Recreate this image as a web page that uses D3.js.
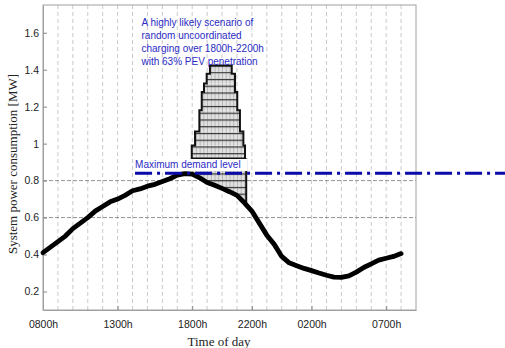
<!DOCTYPE html>
<html>
<head>
<meta charset="utf-8">
<script src="https://cdn.jsdelivr.net/npm/d3@7"></script>
<style>
  body { margin: 0; background: #fff; }
  svg { display: block; }
</style>
</head>
<body>
<div id="chart"></div>
<script>
// hours after 0800h, base system load in MW
const loadHours = [0, 0.5, 1, 1.5, 2, 2.5, 3, 3.5, 4, 4.5, 5, 5.5, 6, 6.5, 7, 7.5, 8, 8.5, 9, 9.5,
  10, 10.5, 11, 11.5, 12, 12.5, 13, 13.5, 14, 14.5, 15, 15.5, 16, 16.5, 17, 17.5, 18, 18.5, 19, 19.5,
  20, 20.5, 21, 21.5, 22, 22.5, 23, 23.5, 24];
const loadMW = [0.41, 0.44, 0.47, 0.50, 0.54, 0.57, 0.60, 0.635, 0.66, 0.685, 0.70, 0.72, 0.745, 0.755, 0.77, 0.78, 0.795, 0.81, 0.83, 0.838,
  0.835, 0.815, 0.79, 0.775, 0.758, 0.74, 0.72, 0.68, 0.635, 0.57, 0.505, 0.455, 0.39, 0.355, 0.34, 0.325, 0.313, 0.30, 0.288, 0.278,
  0.277, 0.285, 0.305, 0.33, 0.35, 0.37, 0.38, 0.39, 0.405];

// PEV charging layers stacked above the base load (bottom -> top)
const layerBottom = [0.92, 0.99, 1.065, 1.18, 1.28, 1.325, 1.378];
const layerTop    = [0.99, 1.065, 1.18, 1.28, 1.325, 1.378, 1.423];
const layerStart  = [9.97, 10.19, 10.48, 10.64, 10.79, 10.97, 11.19];
const layerEnd    = [13.54, 13.43, 13.2, 13.02, 12.87, 12.87, 12.65];
const fillStart = 9.97, fillEnd = 13.62;

const maxDemand = 0.84;
const maxDemandFrom = 6.17;

const xTickValues = [0, 5, 10, 14, 18, 23];
const xTickLabels = ['0800h', '1300h', '1800h', '2200h', '0200h', '0700h'];
const yTickValues = [0.2, 0.4, 0.6, 0.8, 1, 1.2, 1.4, 1.6];
const hGridValues = [0.6, 0.8];
const vGridValues = [1, 2, 3, 4, 5, 6, 7, 8, 9, 10, 11, 12, 13, 14, 15, 16, 17, 18, 19, 20, 21, 22, 23, 24];

const noteLines = ['A highly likely scenario of', 'random uncoordinated',
  'charging over 1800h-2200h', 'with 63% PEV penetration'];

const width = 505, height = 348;
const pLeft = 43, pRight = 416, pTop = 5, pBottom = 310;

const svg = d3.select('#chart').append('svg')
  .attr('width', width)
  .attr('height', height);

const x = d3.scaleLinear().domain([0, 25]).range([pLeft, pRight]);
const y = d3.scaleLinear().domain([0.1, 1.75]).range([pBottom, pTop]);

const defs = svg.append('defs');
defs.append('clipPath').attr('id', 'plot')
  .append('rect')
  .attr('x', pLeft).attr('y', pTop)
  .attr('width', pRight - pLeft).attr('height', pBottom - pTop);

defs.append('clipPath').attr('id', 'lowfill')
  .append('rect')
  .attr('x', x(fillStart)).attr('y', y(layerBottom[0]))
  .attr('width', x(fillEnd) - x(fillStart))
  .attr('height', pBottom - y(layerBottom[0]));

// hatch: thin vertical lines every 15 min, dark horizontal lines per layer
const pw = x(0.25) - x(0), ph = y(0) - y(0.0365);
const pat = defs.append('pattern').attr('id', 'hatch')
  .attr('patternUnits', 'userSpaceOnUse')
  .attr('x', x(0)).attr('y', y(layerTop[layerTop.length - 1]))
  .attr('width', pw).attr('height', ph);
pat.append('rect').attr('width', pw).attr('height', ph).attr('fill', '#e0e0e0');
pat.append('line').attr('x1', 0.3).attr('x2', 0.3).attr('y1', 0).attr('y2', ph)
  .attr('stroke', '#999').attr('stroke-width', 0.7);
pat.append('line').attr('x1', 0).attr('x2', pw).attr('y1', 0.6).attr('y2', 0.6)
  .attr('stroke', '#333').attr('stroke-width', 1.2);

// grid
const grid = svg.append('g').attr('clip-path', 'url(#plot)');
grid.selectAll('.vgrid').data(vGridValues).enter().append('line')
  .attr('class', 'vgrid')
  .attr('x1', d => x(d)).attr('x2', d => x(d))
  .attr('y1', pTop).attr('y2', pBottom)
  .attr('stroke', '#bcbcbc').attr('stroke-width', 0.8)
  .attr('stroke-dasharray', '4,3');
grid.selectAll('.hgrid').data(hGridValues).enter().append('line')
  .attr('class', 'hgrid')
  .attr('x1', pLeft).attr('x2', pRight)
  .attr('y1', d => y(d)).attr('y2', d => y(d))
  .attr('stroke', '#777').attr('stroke-width', 0.8)
  .attr('stroke-dasharray', '4,2');

// frame
svg.append('rect')
  .attr('x', pLeft).attr('y', pTop)
  .attr('width', pRight - pLeft).attr('height', pBottom - pTop)
  .attr('fill', 'none').attr('stroke', '#a0a0a0').attr('stroke-width', 1);

// axes
const xAxis = d3.axisBottom(x)
  .tickValues(xTickValues)
  .tickFormat((d, i) => xTickLabels[i])
  .tickSizeInner(-4).tickSizeOuter(0).tickPadding(11);
const yAxis = d3.axisLeft(y)
  .tickValues(yTickValues)
  .tickFormat(d3.format('~g'))
  .tickSizeInner(-4).tickSizeOuter(0).tickPadding(4);

const gx = svg.append('g').attr('transform', `translate(0,${pBottom})`).call(xAxis);
const gy = svg.append('g').attr('transform', `translate(${pLeft},0)`).call(yAxis);
[gx, gy].forEach(g => {
  g.select('.domain').attr('stroke', '#a0a0a0');
  g.selectAll('.tick line').attr('stroke', '#888');
  g.selectAll('.tick text')
    .attr('fill', '#222')
    .style('font-family', '"Liberation Sans", Arial, sans-serif')
    .style('font-size', '10.5px');
});

// PEV charging: fill between base load and first layer
const baseAt = d3.scaleLinear().domain(loadHours).range(loadMW);
const fillArea = d3.area()
  .x((d, i) => x(loadHours[i]))
  .y0(d => y(d))
  .y1(y(layerBottom[0]));
svg.append('path')
  .datum(loadMW)
  .attr('clip-path', 'url(#lowfill)')
  .attr('d', fillArea)
  .attr('fill', 'url(#hatch)');

svg.selectAll('.layer').data(layerTop).enter().append('rect')
  .attr('class', 'layer')
  .attr('x', (d, i) => x(layerStart[i]))
  .attr('width', (d, i) => x(layerEnd[i]) - x(layerStart[i]))
  .attr('y', d => y(d))
  .attr('height', (d, i) => y(layerBottom[i]) - y(d))
  .attr('fill', 'url(#hatch)');

// outline of the stacked layers
const outline = [];
layerTop.forEach((t, i) => {
  outline.push([layerStart[i], layerBottom[i]]);
  outline.push([layerStart[i], t]);
});
for (let i = layerTop.length - 1; i >= 0; i--) {
  outline.push([layerEnd[i], layerTop[i]]);
  outline.push([layerEnd[i], layerBottom[i]]);
}
svg.append('path')
  .attr('d', d3.line().x(d => x(d[0])).y(d => y(d[1]))(outline) + 'Z')
  .attr('fill', 'none').attr('stroke', '#111').attr('stroke-width', 2);

svg.append('line')
  .attr('x1', x(fillEnd)).attr('x2', x(fillEnd))
  .attr('y1', y(layerBottom[0])).attr('y2', y(baseAt(fillEnd)))
  .attr('stroke', '#111').attr('stroke-width', 2);

// base load
svg.append('path')
  .datum(loadMW)
  .attr('d', d3.line().x((d, i) => x(loadHours[i])).y(d => y(d)))
  .attr('fill', 'none')
  .attr('stroke', '#000')
  .attr('stroke-width', 4.8)
  .attr('stroke-linejoin', 'round')
  .attr('stroke-linecap', 'round');

// label for maximum demand, with white box
const mdl = svg.append('g');
const mdlText = mdl.append('text')
  .attr('x', x(maxDemandFrom))
  .attr('y', 168)
  .attr('fill', '#2b2bc4')
  .style('font-family', '"Liberation Sans", Arial, sans-serif')
  .style('font-size', '10px')
  .text('Maximum demand level');
const bb = mdlText.node().getBBox();
mdl.insert('rect', 'text')
  .attr('x', bb.x - 1).attr('y', bb.y)
  .attr('width', bb.width + 8).attr('height', bb.height + 1)
  .attr('fill', '#fff');

// maximum demand line (runs past the frame)
svg.append('line')
  .attr('x1', x(maxDemandFrom)).attr('x2', width)
  .attr('y1', y(maxDemand)).attr('y2', y(maxDemand))
  .attr('stroke', '#0a0aa8').attr('stroke-width', 3)
  .attr('stroke-dasharray', '17,5,3,5');

// note
svg.append('text')
  .attr('fill', '#2b2bc4')
  .style('font-family', '"Liberation Sans", Arial, sans-serif')
  .style('font-size', '10px')
  .selectAll('tspan').data(noteLines).enter().append('tspan')
  .attr('x', 141.5)
  .attr('y', (d, i) => 25.5 + i * 13.2)
  .text(d => d);

// axis titles
svg.append('text')
  .attr('transform', 'translate(17,164) rotate(-90)')
  .attr('text-anchor', 'middle')
  .attr('fill', '#222')
  .style('font-family', '"Liberation Serif", "Times New Roman", serif')
  .style('font-size', '13px')
  .text('System power consumption [MW]');

svg.append('text')
  .attr('x', 219).attr('y', 346)
  .attr('text-anchor', 'middle')
  .attr('fill', '#222')
  .style('font-family', '"Liberation Serif", "Times New Roman", serif')
  .style('font-size', '13px')
  .text('Time of day');
</script>
</body>
</html>
